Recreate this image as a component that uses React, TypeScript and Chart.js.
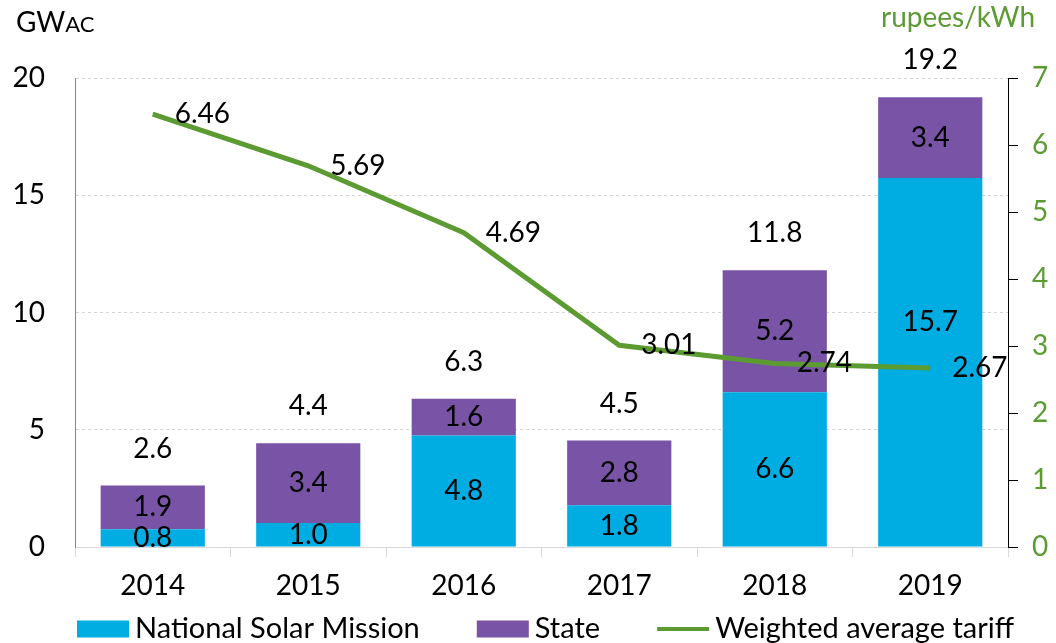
import React, { useEffect, useRef } from "react";
import { Chart, registerables } from "chart.js";

Chart.register(...registerables);

// ---- data ----
const years = ["2014", "2015", "2016", "2017", "2018", "2019"];
const nationalSolarMission = [0.76, 1.02, 4.76, 1.78, 6.6, 15.74];
const stateCapacity = [1.86, 3.4, 1.56, 2.76, 5.2, 3.44];
const weightedTariff = [6.46, 5.69, 4.69, 3.01, 2.74, 2.67];
const seriesNames = ["National Solar Mission", "State", "Weighted average tariff"];
const leftAxisTitle = ["GW", "AC"];
const rightAxisTitle = "rupees/kWh";

// ---- styles ----
const FONT = "Lato, 'Open Sans', sans-serif";
const CYAN = "#00ADE2";
const PURPLE = "#7953A5";
const GREEN = "#5B9B32";
// manual nudge (px) of in-bar labels, keyed "datasetIndex-index" (label moved off the line label)
const LABEL_NUDGE: Record<string, number> = { "0-5": -40 };

const labelPlugin = {
  id: "valueLabels",
  afterDatasetsDraw(chart: any) {
    const ctx = chart.ctx;
    ctx.save();
    ctx.font = `28px ${FONT}`;
    ctx.fillStyle = "#000";
    ctx.textAlign = "center";
    ctx.textBaseline = "middle";
    [0, 1].forEach((di) => {
      const meta = chart.getDatasetMeta(di);
      meta.data.forEach((el: any, i: number) => {
        const v = chart.data.datasets[di].data[i] as number;
        const { x, y, base } = el.getProps(["x", "y", "base"], true);
        const nudge = LABEL_NUDGE[`${di}-${i}`] || 0;
        ctx.fillText(v.toFixed(1), x, (y + base) / 2 + nudge);
      });
    });
    const topMeta = chart.getDatasetMeta(1);
    topMeta.data.forEach((el: any, i: number) => {
      const total = nationalSolarMission[i] + stateCapacity[i];
      ctx.fillText(total.toFixed(1), el.x, el.y - 37);
    });
    ctx.textAlign = "left";
    chart.getDatasetMeta(2).data.forEach((el: any, i: number) => {
      ctx.fillText(weightedTariff[i].toFixed(2), el.x + 22, el.y);
    });
    ctx.restore();
  },
  afterDraw(chart: any) {
    const ctx = chart.ctx;
    const area = chart.chartArea;
    ctx.save();
    // axis titles
    ctx.textBaseline = "alphabetic";
    ctx.textAlign = "left";
    ctx.fillStyle = "#000";
    ctx.font = `28px ${FONT}`;
    ctx.fillText(leftAxisTitle[0], 16, 32);
    const w = ctx.measureText(leftAxisTitle[0]).width;
    ctx.font = `22px ${FONT}`;
    ctx.fillText(leftAxisTitle[1], 16 + w, 32);
    ctx.font = `28px ${FONT}`;
    ctx.fillStyle = GREEN;
    ctx.textAlign = "right";
    ctx.fillText(rightAxisTitle, 1035, 27);

    // legend
    const colors = [CYAN, PURPLE, GREEN];
    const boxW = 52;
    const boxH = 17;
    const textGap = 6;
    const itemGap = 57;
    const ly = 629;
    ctx.font = `29px ${FONT}`;
    ctx.textAlign = "left";
    ctx.textBaseline = "middle";
    let x = area.left + 2;
    seriesNames.forEach((name, i) => {
      if (i < 2) {
        ctx.fillStyle = colors[i];
        ctx.fillRect(x, ly - boxH / 2, boxW, boxH);
      } else {
        ctx.strokeStyle = colors[i];
        ctx.lineWidth = 4;
        ctx.beginPath();
        ctx.moveTo(x, ly);
        ctx.lineTo(x + boxW, ly);
        ctx.stroke();
      }
      x += boxW + textGap;
      ctx.fillStyle = "#000";
      ctx.fillText(name, x, ly);
      x += ctx.measureText(name).width + itemGap;
    });
    ctx.restore();
  },
};

export default function App() {
  const ref = useRef<HTMLCanvasElement | null>(null);

  useEffect(() => {
    if (!ref.current) return;
    const chart = new Chart(ref.current, {
      type: "bar",
      data: {
        labels: years,
        datasets: [
          {
            type: "bar",
            label: seriesNames[0],
            data: nationalSolarMission,
            backgroundColor: CYAN,
            yAxisID: "y",
            order: 1,
            categoryPercentage: 1,
            barPercentage: 0.67,
          },
          {
            type: "bar",
            label: seriesNames[1],
            data: stateCapacity,
            backgroundColor: PURPLE,
            yAxisID: "y",
            order: 1,
            categoryPercentage: 1,
            barPercentage: 0.67,
          },
          {
            type: "line",
            label: seriesNames[2],
            data: weightedTariff,
            borderColor: GREEN,
            backgroundColor: GREEN,
            borderWidth: 5,
            pointRadius: 0,
            tension: 0,
            yAxisID: "y1",
            order: 0,
          } as any,
        ],
      },
      options: {
        responsive: false,
        animation: false,
        devicePixelRatio: 1,
        layout: { padding: { top: 78, left: 0, right: 0, bottom: 0 } },
        plugins: {
          legend: { display: false },
          tooltip: { enabled: false },
        },
        scales: {
          x: {
            stacked: true,
            offset: true,
            grid: {
              offset: true,
              drawOnChartArea: false,
              drawTicks: true,
              tickLength: 10,
              color: "#D9D9D9",
            },
            border: { display: true, color: "#D9D9D9", width: 1 },
            ticks: { color: "#000", font: { family: FONT, size: 28 }, padding: 12 },
            afterFit: (s: any) => {
              s.height = 96;
            },
          },
          y: {
            stacked: true,
            position: "left",
            min: 0,
            max: 20,
            ticks: { stepSize: 5, color: "#000", font: { family: FONT, size: 28 }, padding: 30 },
            grid: {
              drawTicks: false,
              color: (c: any) => (c.tick && c.tick.value === 0 ? "rgba(0,0,0,0)" : "#D4D4D4"),
              lineWidth: 1,
            },
            border: { display: true, color: "#868686", width: 1, dash: [3, 3] },
            afterFit: (s: any) => {
              s.width = 75;
            },
          },
          y1: {
            position: "right",
            min: 0,
            max: 7,
            ticks: { stepSize: 1, color: GREEN, font: { family: FONT, size: 28 }, padding: 14 },
            grid: {
              drawOnChartArea: false,
              drawTicks: true,
              tickLength: 10,
              color: "#000",
            },
            border: { display: true, color: "#000", width: 1 },
            afterFit: (s: any) => {
              s.width = 48;
            },
          },
        },
      },
      plugins: [labelPlugin],
    });
    return () => chart.destroy();
  }, []);

  return (
    <div style={{ position: "absolute", left: 0, top: 0, width: 1056, height: 643, background: "#fff" }}>
      <canvas ref={ref} width={1056} height={643} style={{ display: "block" }} />
    </div>
  );
}
